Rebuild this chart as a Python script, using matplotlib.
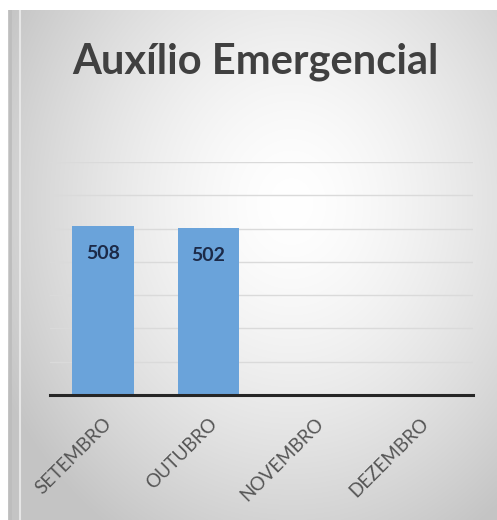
import numpy as np
import matplotlib
matplotlib.use("Agg")
import matplotlib.pyplot as plt

# Dados do gráfico
meses = ["SETEMBRO", "OUTUBRO", "NOVEMBRO", "DEZEMBRO"]
valores = [508, 502, np.nan, np.nan]
titulo = "Auxílio Emergencial"

W, H, DPI = 497, 520, 100
fig = plt.figure(figsize=(W / DPI, H / DPI), dpi=DPI)
fig.patch.set_facecolor("white")

# Fundo da área do gráfico: degradê radial cinza -> branco
bg = fig.add_axes([8 / W, 0, 1 - 8 / W, 1 - 10 / H], zorder=-2)
nx, ny = 300, 320
xx, yy = np.meshgrid(np.linspace(0, 1, nx), np.linspace(0, 1, ny))
cx, cy = 0.58, 0.62
r = np.sqrt(((xx - cx) / 0.75) ** 2 + ((yy - cy) / 0.85) ** 2)
v = np.clip(1.0 - 0.27 * r ** 1.5, 0.77, 1.0)
img = np.dstack([v, v, v])
bg.imshow(img, origin="lower", extent=[0, 1, 0, 1], aspect="auto", interpolation="bilinear")
bg.axvline(0.004, color="#bdbdbd", lw=2)
bg.axvline(0.025, color="#e6e6e6", lw=1.5)
bg.set_xlim(0, 1)
bg.set_ylim(0, 1)
bg.axis("off")

# Área de plotagem
ax = fig.add_axes([50 / W, 125 / H, 423 / W, 233 / H])
ax.patch.set_alpha(0)
x = np.arange(len(meses))
barras = ax.bar(x, valores, width=0.58, color="#6aa3da", zorder=3)

ax.set_xlim(-0.5, len(meses) - 0.5)
ax.set_ylim(0, 700)
ax.set_yticks(np.arange(100, 701, 100))
ax.yaxis.grid(True, color="#dadada", lw=1, zorder=0)
ax.tick_params(axis="y", length=0, labelleft=False)
for s in ["top", "right", "left"]:
    ax.spines[s].set_visible(False)
ax.spines["bottom"].set_color("#262626")
ax.spines["bottom"].set_linewidth(2.2)
ax.spines["bottom"].set_zorder(4)

ax.set_xticks(x)
ax.set_xticklabels(meses, rotation=45, ha="right", rotation_mode="anchor",
                   fontsize=13.5, color="#555555", family="Lato")
ax.tick_params(axis="x", length=0, pad=14)

# Rótulos de dados dentro das barras
for xi, val in zip(x, valores):
    if not np.isnan(val):
        ax.text(xi, val - 82, f"{val:.0f}", ha="center", va="center",
                fontsize=14, fontweight="bold", color="#1c2a48", family="Lato",
                zorder=5)

fig.text(255 / W, 1 - 62 / H, titulo, ha="center", va="center",
         fontsize=30, fontweight="bold", color="#404040", family="Lato")

fig.savefig("out.png", dpi=DPI)
